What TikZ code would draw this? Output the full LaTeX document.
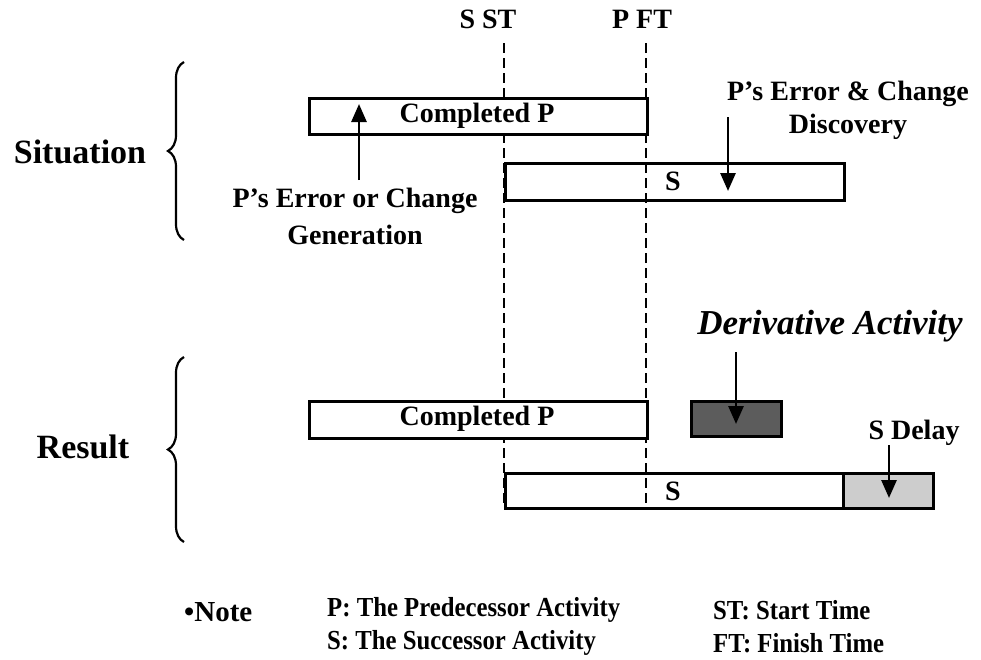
\documentclass[tikz,border=0pt]{standalone}
\usepackage{fontspec}
\setmainfont{Liberation Serif}
\usetikzlibrary{arrows.meta,decorations.pathreplacing}
\newcommand{\narrow}[1]{\scalebox{0.9}[1]{#1}}
\begin{document}
\begin{tikzpicture}[x=1pt,y=-1pt,
  bar/.style={draw=black, line width=2.8pt, anchor=north west, inner sep=0pt},
  lbl/.style={font=\fontsize{28}{33}\selectfont\bfseries, inner sep=0pt, align=center},
  big/.style={font=\fontsize{34}{40}\selectfont\bfseries, inner sep=0pt},
  note/.style={font=\fontsize{27.5}{30}\selectfont\bfseries, inner sep=0pt, anchor=west},
  timeline/.style={line width=2.3pt, dash pattern=on 10pt off 5pt},
  pointer/.style={line width=2.8pt, -{Triangle[width=15pt,length=18pt]}},
  curly/.style={line width=2.2pt, decorate, decoration={brace, amplitude=16pt}}]
\useasboundingbox (0,0) rectangle (981,659);

% time marks
\node[lbl] (sst) at (488,19) {S ST};
\node[lbl] (pft) at (642,19) {P FT};

% dashed time lines (drawn first so the filled bars cover them)
\coordinate (sstTop) at (504,43);
\coordinate (sstBot) at (504,507);
\coordinate (pftTop) at (646,43);
\coordinate (pftBot) at (646,505);
\draw[timeline] (sstTop) -- (sstBot);
\draw[timeline] (pftTop) -- (pftBot);

% situation bars
\node[bar, fill=white, minimum width=338pt, minimum height=36pt] (cpA) at (308,97) {};
\node[lbl] (cpAtxt) at (477,116) {Completed P};
\node[bar, minimum width=339pt, minimum height=37pt] (sA) at (504,162) {};
\node[lbl] (sAtxt) at (673,181) {S};

% result bars
\node[bar, fill=white, minimum width=338pt, minimum height=37pt] (cpB) at (308,400) {};
\node[lbl] (cpBtxt) at (477,419) {Completed P};
\node[bar, minimum width=338pt, minimum height=35pt] (sB) at (504,472) {};
\node[lbl] (sBtxt) at (673,491) {S};
\node[bar, fill={rgb,255:red,205;green,205;blue,205}, minimum width=90pt, minimum height=35pt] (delay) at (842,472) {};
\node[bar, fill={rgb,255:red,92;green,92;blue,92}, minimum width=90pt, minimum height=35pt] (deriv) at (690,400) {};

% annotations and pointers
\node[lbl, font=\fontsize{28}{37}\selectfont\bfseries] (gen) at (355,216) {P’s Error or Change\\Generation};
\coordinate (genFrom) at (359,180);
\coordinate (genTo) at (359,104);
\draw[pointer] (genFrom) -- (genTo);

\node[lbl] (disc) at (848,110) {P’s Error \& Change\\Discovery};
\coordinate (discFrom) at (728,117);
\coordinate (discTo) at (728,191);
\draw[pointer] (discFrom) -- (discTo);

\node[font=\fontsize{35}{40}\selectfont\bfseries\itshape, inner sep=0pt] (dtxt) at (830,326) {Derivative Activity};
\coordinate (derFrom) at (736,352);
\coordinate (derTo) at (736,424);
\draw[pointer] (derFrom) -- (derTo);

\node[lbl] (dly) at (914,433) {S Delay};
\coordinate (dlyFrom) at (889,445);
\coordinate (dlyTo) at (889,498);
\draw[pointer] (dlyFrom) -- (dlyTo);

% group braces
\node[big] (sit) at (80,152) {Situation};
\node[big] (res) at (83,447) {Result};
\coordinate (bAbot) at (184,240);
\coordinate (bAtop) at (184,62);
\coordinate (bBbot) at (184,542);
\coordinate (bBtop) at (184,357);
\draw[curly] (bAbot) -- (bAtop);
\draw[curly] (bBbot) -- (bBtop);

% legend
\node[note, font=\fontsize{29}{34}\selectfont\bfseries] (nt) at (184,612) {•Note};
\node[note] (n1) at (327,610) {\narrow{P: The Predecessor Activity}};
\node[note] (n2) at (327,643) {\narrow{S: The Successor Activity}};
\node[note] (n3) at (713,610) {\narrow{ST: Start Time}};
\node[note] (n4) at (713,643) {\narrow{FT: Finish Time}};
\end{tikzpicture}
\end{document}
